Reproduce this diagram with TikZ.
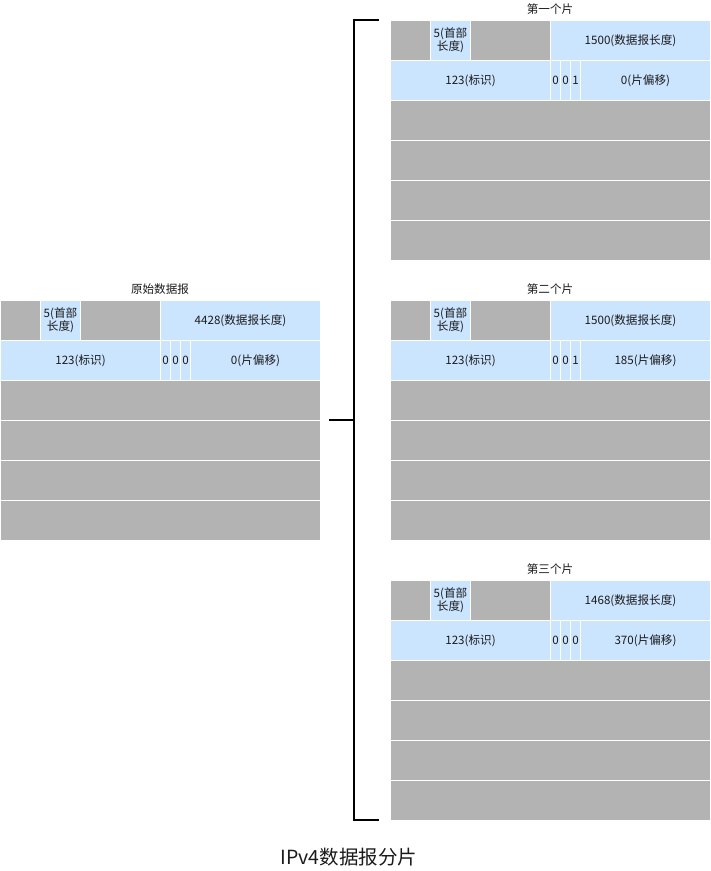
\documentclass[tikz,border=0pt]{standalone}
\usepackage{fontspec}
\setmainfont{Noto Sans CJK SC}
\definecolor{cellgray}{HTML}{B3B3B3}
\definecolor{cellblue}{HTML}{CCE5FF}
\definecolor{txt}{HTML}{1A1A1A}
\tikzset{
  cell/.style={draw=white, line width=1pt, anchor=north west, inner sep=0pt, align=center,
    text=txt, font=\fontsize{11.6}{13}\selectfont},
  gcell/.style={cell, fill=cellgray},
  bcell/.style={cell, fill=cellblue},
  ttl/.style={inner sep=0pt, text=txt, font=\fontsize{11.6}{13}\selectfont},
  bracket/.style={draw=black, line width=2pt, line cap=butt, line join=miter},
}
% #1 prefix, #2 x, #3 y (top of table), #4 title, #5 length, #6 third flag, #7 offset
\newcommand\dgram[7]{%
  \node[ttl] (#1-title) at (#2+160,#3-11) {#4};
  \node[gcell, minimum width=40pt, minimum height=40pt] (#1-a) at (#2,#3) {};
  \node[bcell, minimum width=40pt, minimum height=40pt] (#1-hl) at (#2+40,#3) {5(首部\\长度)};
  \node[gcell, minimum width=80pt, minimum height=40pt] (#1-b) at (#2+80,#3) {};
  \node[bcell, minimum width=160pt, minimum height=40pt] (#1-len) at (#2+160,#3) {#5(数据报长度)};
  \node[bcell, minimum width=160pt, minimum height=40pt] (#1-id) at (#2,#3+40) {123(标识)};
  \node[bcell, minimum width=10pt, minimum height=40pt] (#1-f1) at (#2+160,#3+40) {0};
  \node[bcell, minimum width=10pt, minimum height=40pt] (#1-f2) at (#2+170,#3+40) {0};
  \node[bcell, minimum width=10pt, minimum height=40pt] (#1-f3) at (#2+180,#3+40) {#6};
  \node[bcell, minimum width=130pt, minimum height=40pt] (#1-off) at (#2+190,#3+40) {#7(片偏移)};
  \node[gcell, minimum width=320pt, minimum height=40pt] (#1-r3) at (#2,#3+80) {};
  \node[gcell, minimum width=320pt, minimum height=40pt] (#1-r4) at (#2,#3+120) {};
  \node[gcell, minimum width=320pt, minimum height=40pt] (#1-r5) at (#2,#3+160) {};
  \node[gcell, minimum width=320pt, minimum height=40pt] (#1-r6) at (#2,#3+200) {};
}
\begin{document}
\begin{tikzpicture}[x=1pt,y=-1pt]
  \useasboundingbox (0,0) rectangle (711,871);
  \dgram{orig}{0}{300}{原始数据报}{4428}{0}{0}
  \dgram{fr1}{390}{20}{第一个片}{1500}{1}{0}
  \dgram{fr2}{390}{300}{第二个片}{1500}{1}{185}
  \dgram{fr3}{390}{580}{第三个片}{1468}{0}{370}
  % bracket
  \coordinate (btop) at (379,20);
  \coordinate (btopc) at (354,20);
  \coordinate (bbotc) at (354,820);
  \coordinate (bbot) at (379,820);
  \coordinate (bmid) at (354,420);
  \coordinate (btick) at (329,420);
  \draw[bracket] (btop) -- (btopc) -- (bbotc) -- (bbot);
  \draw[bracket] (btick) -- (bmid);
  \node[inner sep=0pt, text=txt, font=\fontsize{19.5}{23}\selectfont] (caption) at (349,857) {IPv4数据报分片};
\end{tikzpicture}
\end{document}
